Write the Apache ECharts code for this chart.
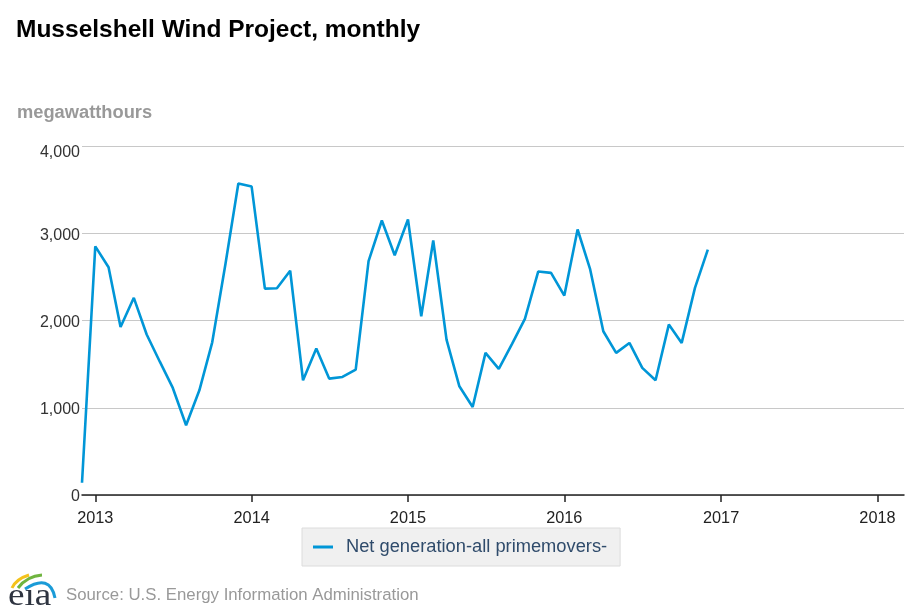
<!DOCTYPE html>
<html>
<head>
<meta charset="utf-8">
<script src="https://cdn.jsdelivr.net/npm/echarts@6/dist/echarts.min.js"></script>
<style>
html,body{margin:0;padding:0;background:#fff;}
#chart{width:920px;height:613px;}
</style>
</head>
<body>
<div id="chart"></div>
<script>
// ---- data ----
var months = [
  '2012-12',
  '2013-01','2013-02','2013-03','2013-04','2013-05','2013-06','2013-07','2013-08','2013-09','2013-10','2013-11','2013-12',
  '2014-01','2014-02','2014-03','2014-04','2014-05','2014-06','2014-07','2014-08','2014-09','2014-10','2014-11','2014-12',
  '2015-01','2015-02','2015-03','2015-04','2015-05','2015-06','2015-07','2015-08','2015-09','2015-10','2015-11','2015-12',
  '2016-01','2016-02','2016-03','2016-04','2016-05','2016-06','2016-07','2016-08','2016-09','2016-10','2016-11','2016-12'
];
var netGeneration = [
  140,
  2850, 2610, 1925, 2260, 1840, 1525, 1227, 800, 1200, 1750, 2650, 3570,
  3535, 2365, 2370, 2570, 1315, 1678, 1334, 1353, 1437, 2680, 3146, 2748,
  3158, 2049, 2917, 1781, 1246, 1009, 1629, 1445, 1733, 2019, 2561, 2546,
  2286, 3043, 2592, 1877, 1629, 1743, 1457, 1315, 1953, 1743, 2374, 2813
];
var yearTicks = ['2013','2014','2015','2016','2017','2018'];
var seriesName = 'Net generation-all primemovers-';

function ts(y, m, d) { return Date.UTC(y, m - 1, d || 1); }
var seriesData = months.map(function (mm, i) {
  var p = mm.split('-');
  return [ts(+p[0], +p[1]), netGeneration[i]];
});
var yearValues = yearTicks.map(function (y) { return ts(+y, 1); });

var FONT = "'Liberation Sans', Arial, Helvetica, sans-serif";
var chart = echarts.init(document.getElementById('chart'), null, {renderer: 'canvas'});
chart.setOption({
  animation: false,
  backgroundColor: '#ffffff',
  textStyle: {fontFamily: FONT},
  grid: {left: 82, right: 16, top: 146, bottom: 118, containLabel: false},
  legend: {
    data: [seriesName],
    left: 302, top: 528,
    orient: 'horizontal',
    padding: [10, 13, 10, 11],
    itemWidth: 20, itemHeight: 3,
    icon: 'rect',
    backgroundColor: '#f0f0f0',
    borderColor: '#dcdcdc', borderWidth: 1,
    textStyle: {fontSize: 18.3, color: '#2f4b6b', fontFamily: FONT, padding: [0, 0, 0, 8]}
  },
  xAxis: {
    type: 'value',
    min: ts(2012, 12, 1),
    max: ts(2018, 3, 4),
    axisLine: {show: true, lineStyle: {color: '#222', width: 1.5}},
    axisTick: {show: true, customValues: yearValues, length: 7, lineStyle: {color: '#222', width: 1.5}},
    axisLabel: {
      customValues: yearValues,
      color: '#222', fontSize: 16.3, margin: 16, fontFamily: FONT,
      formatter: function (v) { return String(new Date(v).getUTCFullYear()); }
    },
    splitLine: {show: false}
  },
  yAxis: {
    type: 'value',
    min: 0, max: 4000, interval: 1000,
    axisLine: {show: false},
    axisTick: {show: false},
    axisLabel: {
      color: '#333', fontSize: 16, margin: 2, fontFamily: FONT,
      padding: [4, 0, 0, 0],
      formatter: function (v) {
        var s = v.toLocaleString('en-US');
        return v === 4000 ? '{top|' + s + '}' : s;
      },
      rich: {top: {fontSize: 16, color: '#333', fontFamily: FONT, padding: [9, 0, 0, 0]}}
    },
    splitLine: {show: true, lineStyle: {color: '#c8c8c8', width: 1}}
  },
  series: [{
    name: seriesName,
    type: 'line',
    data: seriesData,
    showSymbol: false,
    symbol: 'none',
    lineStyle: {color: '#0096d7', width: 2.6},
    itemStyle: {color: '#0096d7'}
  }],
  graphic: [
    {type: 'text', left: 16, top: 18, style: {text: 'Musselshell Wind Project, monthly', font: 'bold 24.5px ' + FONT, fill: '#000'}},
    {type: 'text', left: 17, top: 104, style: {text: 'megawatthours', font: 'bold 18.3px ' + FONT, fill: '#999'}},
    {type: 'text', left: 66, top: 587, style: {text: 'Source: U.S. Energy Information Administration', font: '16.8px ' + FONT, fill: '#999'}},
    {type: 'text', x: 8, y: 581, scaleX: 1.2, style: {x: 0, y: 0, text: 'e\u0131a', font: "31px 'Liberation Serif', 'DejaVu Serif', serif", fill: '#2e3440', verticalAlign: 'top', align: 'left'}},
    {type: 'bezierCurve', shape: {x1: 12, y1: 588, x2: 29, y2: 575, cpx1: 16, cpy1: 579}, style: {stroke: '#f4c21b', lineWidth: 3, fill: 'none'}},
    {type: 'bezierCurve', shape: {x1: 18, y1: 588, x2: 42, y2: 575, cpx1: 27, cpy1: 576}, style: {stroke: '#6fb43f', lineWidth: 3, fill: 'none'}},
    {type: 'bezierCurve', shape: {x1: 25, y1: 589, x2: 55, y2: 598, cpx1: 50, cpy1: 573}, style: {stroke: '#1a9bd7', lineWidth: 3, fill: 'none'}}
  ]
});
</script>
</body>
</html>
